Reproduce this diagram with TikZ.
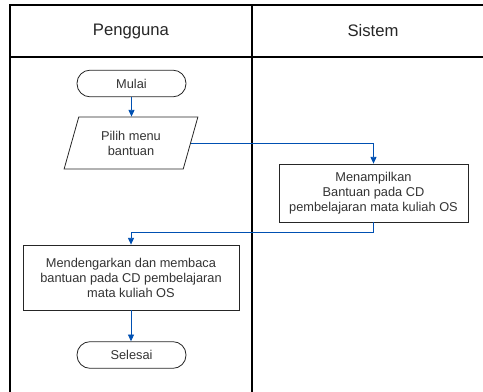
\documentclass[tikz,border=0pt]{standalone}
\usepackage{fontspec}
\setmainfont{Liberation Sans}
\usetikzlibrary{arrows.meta,shapes.geometric}

\tikzset{
  lane/.style={line width=1.5pt, black},
  flowtext/.style={font=\fontsize{9.6}{11.2}\selectfont, text=black!80, align=center},
  terminal/.style={flowtext, draw=black!85, line width=0.6pt, rounded corners=9.8pt,
    minimum width=81.75pt, minimum height=20pt, inner sep=0pt},
  process/.style={flowtext, draw=black!85, line width=0.6pt, inner sep=0pt},
  io/.style={flowtext, draw=black!85, line width=0.6pt, trapezium,
    trapezium left angle=71, trapezium right angle=109, trapezium stretches=true,
    minimum width=100.5pt, minimum height=39pt, inner sep=0pt},
  flow/.style={draw=blue!55!cyan!70!black, line width=0.6pt,
    -{Triangle[length=5pt,width=4.5pt]}},
  header/.style={font=\fontsize{12.5}{14}\selectfont, text=black!85}
}

\begin{document}
\begin{tikzpicture}[x=0.75pt, y=-0.75pt]
  \useasboundingbox (0,0) rectangle (483,392);

  % swimlane frame
  \coordinate (tl) at (10,5);
  \coordinate (tr) at (483,5);
  \coordinate (hl) at (10,57);
  \coordinate (hr) at (483,57);
  \coordinate (bl) at (10,392);
  \coordinate (dt) at (252,5);
  \coordinate (db) at (252,392);
  \draw[lane] (tr) -- (tl) -- (bl);
  \draw[lane] (hl) -- (hr);
  \draw[lane] (dt) -- (db);

  % lane titles
  \node[header] (lanea) at (131,31) {Pengguna};
  \node[header] (laneb) at (373,31) {Sistem};

  % flow elements
  \node[terminal] (mulai) at (131.5,83.5) {Mulai};
  \node[io] (pilih) at (131,143) {Pilih menu\\bantuan};
  \node[process, minimum width=141.75pt, minimum height=43.5pt] (tampil) at (373.5,193)
    {Menampilkan\\Bantuan pada CD\\pembelajaran mata kuliah OS};
  \node[process, minimum width=162pt, minimum height=48.75pt] (dengar) at (131,277.5)
    {Mendengarkan dan membaca\\bantuan pada CD pembelajaran\\mata kuliah OS};
  \node[terminal] (selesai) at (131.5,355) {Selesai};

  % connectors
  \draw[flow] (mulai) -- (mulai |- pilih.north);
  \draw[flow] (pilih.east) -| (tampil.north);
  \draw[flow] (tampil.south) -- ++(0,10) -| (dengar.north);
  \draw[flow] (dengar.south) -- (selesai.north -| dengar.south);
\end{tikzpicture}
\end{document}
